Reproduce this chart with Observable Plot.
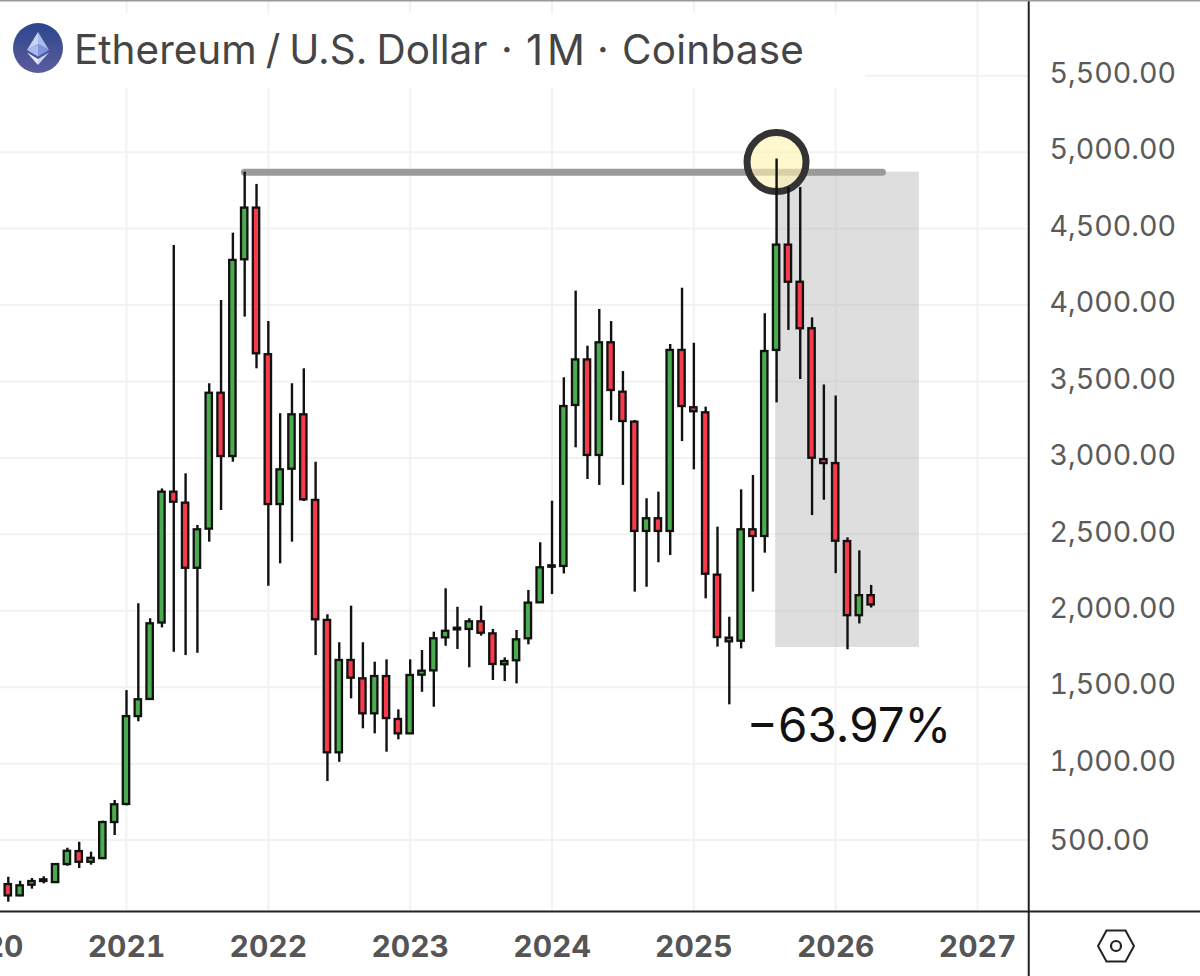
<!DOCTYPE html>
<html><head><meta charset="utf-8">
<script src="https://cdn.jsdelivr.net/npm/d3@7"></script>
<script src="https://cdn.jsdelivr.net/npm/@observablehq/plot@0.6"></script>
<style>
html,body{margin:0;padding:0;background:#fff;width:1200px;height:976px;overflow:hidden;font-family:Inter,sans-serif}
#wrap{position:relative;width:1200px;height:976px}
#head{position:absolute;left:0;top:13px;width:865px;height:75px;background:#fff}
#title{position:absolute;left:74px;top:12px;font:400 40.5px/50px Inter,sans-serif;color:#454545;white-space:nowrap;word-spacing:-2.4px}
#title span{position:absolute;top:0}
#logo{position:absolute;left:12px;top:9px}
#hex{position:absolute;left:1096px;top:928px}
</style></head><body>
<div id="wrap">
<div id="chart"></div>
<div id="head">
<svg id="logo" width="52" height="52" viewBox="0 0 52 52">
<defs><linearGradient id="g" x1="0" y1="0" x2="0" y2="1"><stop offset="0" stop-color="#2c468c"/><stop offset="1" stop-color="#5c5c9e"/></linearGradient></defs>
<circle cx="26" cy="26" r="25" fill="url(#g)"/>
<path d="M26 10 L15 28 L26 22Z" fill="#c9d4f3"/><path d="M26 10 L37 28 L26 22Z" fill="#a9bcec"/>
<path d="M15 28 L26 22 L26 34.500Z" fill="#a9bcec"/><path d="M37 28 L26 22 L26 34.500Z" fill="#7f96dc"/>
<path d="M15 30.500 L26 37 L26 43Z" fill="#e6ebfa"/><path d="M37 30.500 L26 37 L26 43Z" fill="#c9d4f3"/>
</svg>
<div id="title"><span style="left:0">Ethereum / U.S. Dollar</span><span style="left:427px">·</span><span style="left:452px;letter-spacing:4px;font-size:42px">1M</span><span style="left:523px">·</span><span style="left:548px;letter-spacing:0.2px">Coinbase</span></div>
</div>
<svg id="hex" width="40" height="36" viewBox="0 0 40 36"><path d="M10.500 2.500 H29.500 L38 18 L29.500 33.500 H10.500 L2 18Z" fill="none" stroke="#222" stroke-width="2"/><circle cx="20" cy="18" r="5" fill="none" stroke="#222" stroke-width="2.200"/></svg>
</div>
<script>
const firstYear = 2020, firstMonthIndex = 2;
const opens = [209,135,205,229,222,340,425,355,379,615,733,1308,1420,1920,2776,2704,2278,2534,3423,3009,4296,4634,3675,2695,2926,3282,2722,1937,1071,1675,1555,1326,1570,1289,1195,1579,1607,1823,1875,1878,1928,1849,1647,1673,1817,2052,2285,2290,3343,3641,3016,3753,3430,3234,2519,2602,2519,3703,3328,3295,2233,1821,1801,2530,2486,3703,4392,4149,3845,2989,2963,2453,1968,2099];
const highs = [257,231,249,260,346,447,486,421,624,759,1478,2046,1948,2797,4390,2896,2558,3485,4030,4470,4869,4789,3892,3289,3485,3583,2972,1974,1791,2030,1791,1664,1679,1352,1679,1740,1860,2144,2023,1948,2030,1878,1692,1871,2133,2445,2717,3524,4091,3731,3971,3892,3565,3245,2733,2776,3742,4110,3750,3332,2547,1958,2791,2885,3943,4955,4769,4769,3916,3477,3405,2477,2392,2166];
const lows = [94,130,179,214,216,329,314,336,372,530,724,1274,1420,1888,1729,1707,1722,2449,2656,2972,3921,3583,2161,2307,2449,2715,1707,883,1009,1424,1228,1195,1075,1156,1190,1467,1369,1768,1747,1627,1834,1544,1537,1522,1777,2050,2106,2241,3066,2859,2820,3243,2820,2122,2154,2314,2362,3107,2922,2078,1762,1385,1751,2122,2377,3360,3834,3513,2623,2723,2243,1745,1914,2018];
const closes = [135,201,229,240,340,427,355,381,615,731,1308,1418,1915,2776,2710,2278,2530,3423,3009,4292,4634,3681,2695,2922,3282,2726,1941,1071,1675,1559,1326,1570,1295,1195,1577,1605,1817,1866,1886,1928,1853,1649,1668,1810,2050,2281,2294,3336,3641,3016,3753,3441,3238,2519,2602,2519,3703,3336,3302,2239,1825,1797,2530,2486,3696,4392,4149,3845,2998,2963,2455,1968,2099,2038];
const yearTicks = [2020,2021,2022,2023,2024,2025,2026,2027];
const priceTicks = [1000,1500,2000,2500,3000,3500,4000,4500,5000,5500];
const lowTick = [500];
const gridPrices = [500,1000,1500,2000,2500,3000,3500,4000,4500,5000,5500];
const ATH2021 = 4869, rangeLow = 1760, peak = 4935;
const rangeLabel = "−63.97%";

const candles = opens.map((o,i)=>({t: firstYear + (firstMonthIndex+i)/12, o, h:highs[i], l:lows[i], c:closes[i]}));
const halfBar = 0.0225;
const xMin = 2020.1117, xMax = 2028.572, xEdge = 2027.361;
const yMin = 33, yMax = 5992;
const price = d3.format(",.2f");
const up = "#4aac4e", down = "#f73a4c";

const plot = Plot.plot({
  width:1200, height:976, marginLeft:0, marginRight:0, marginTop:0, marginBottom:65,
  style:{fontFamily:"Inter, sans-serif", background:"#fff", overflow:"hidden"},
  x:{domain:[xMin,xMax], range:[0,1200]},
  y:{domain:[yMin,yMax], range:[911,0]},
  marks:[
    Plot.ruleY(gridPrices,{x1:xMin,x2:xEdge,stroke:"#f2f2f2",strokeWidth:2}),
    Plot.ruleX(yearTicks.slice(1),{stroke:"#f2f2f2",strokeWidth:2}),
    Plot.rect([0],{x1:()=>2025.577,x2:()=>2026.59,y1:()=>rangeLow,y2:()=>ATH2021,fill:"#b8b8b8",fillOpacity:0.47}),
    Plot.ruleY([ATH2021],{x1:2021.835,x2:2026.333,stroke:"#9a9a9a",strokeWidth:7,strokeLinecap:"round"}),
    Plot.dot([0],{x:()=>2025.583,y:()=>peak,r:29.5,fill:"#fff2b0",fillOpacity:0.62,stroke:"#333",strokeWidth:7}),
    Plot.ruleX(candles,{x:"t",y1:"l",y2:"h",stroke:"#111",strokeWidth:2.4}),
    Plot.rect(candles,{x1:d=>d.t-halfBar,x2:d=>d.t+halfBar,y1:"o",y2:"c",fill:d=>d.c>=d.o?up:down,stroke:"#111",strokeWidth:2.3}),
    Plot.text([rangeLabel],{x:()=>2025.372,y:()=>1238,text:d=>d,textAnchor:"start",fontSize:47.5,fill:"#111"}),
    Plot.ruleY([yMin],{stroke:"#222",strokeWidth:2}),
    Plot.ruleX([xEdge],{y1:yMin-430,y2:yMax+20,stroke:"#222",strokeWidth:2,clip:false}),
    Plot.ruleY([yMax],{stroke:"#999",strokeWidth:2}),
    Plot.axisY(priceTicks,{anchor:"right",label:null,tickSize:0,tickPadding:0,textAnchor:"start",dx:-151,dy:-2,tickFormat:price,fontSize:28.6,fill:"#5a5a5a"}),
    Plot.axisY(lowTick,{anchor:"right",label:null,tickSize:0,tickPadding:0,textAnchor:"start",dx:-151,dy:1,tickFormat:price,fontSize:28.6,fill:"#5a5a5a"}),
    Plot.axisX(yearTicks,{anchor:"bottom",label:null,tickSize:0,tickPadding:24,tickFormat:d=>String(d),fontSize:30,fontWeight:700,fill:"#555"})
  ]
});
document.getElementById("chart").appendChild(plot);
</script>
</body></html>
